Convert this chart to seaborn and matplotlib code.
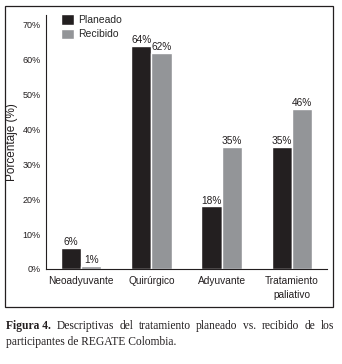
import matplotlib
matplotlib.use('Agg')
import matplotlib.pyplot as plt
import seaborn as sns
import pandas as pd
from matplotlib.patches import Rectangle
from matplotlib.ticker import FuncFormatter

sns.set_style('white')
plt.rcParams['font.family'] = ['Liberation Sans', 'DejaVu Sans']

# data
categorias = ['Neoadyuvante', 'Quirúrgico', 'Adyuvante', 'Tratamiento\npaliativo']
planeado = [6, 64, 18, 35]
recibido = [1, 62, 35, 46]
series = ['Planeado', 'Recibido']
colores = ['#231f20', '#939598']

df = pd.DataFrame({
    'categoria': categorias * 2,
    'serie': [series[0]] * 4 + [series[1]] * 4,
    'valor': planeado + recibido,
})

fig = plt.figure(figsize=(3.42, 3.64), dpi=100)
ax = fig.add_axes([46 / 342, 1 - 269 / 364, (327 - 46) / 342, (269 - 15) / 364])

sns.barplot(data=df, x='categoria', y='valor', hue='serie', palette=colores,
            width=0.58, saturation=1, ax=ax)

for cont in ax.containers:
    ax.bar_label(cont, fmt='%d%%', fontsize=7.3, padding=0.5, color='#231f20')

ax.set_ylim(0, 72.8)
ax.set_xlim(-0.5, 3.5)
ax.set_yticks(range(0, 71, 10))
ax.yaxis.set_major_formatter(FuncFormatter(lambda v, p: f'{int(v)}%'))
ax.set_xlabel('')
ax.set_ylabel('Porcentaje (%)', fontsize=8.5, color='#231f20', labelpad=3)
ax.tick_params(axis='y', labelsize=6.5, length=0, pad=4, colors='#231f20')
ax.tick_params(axis='x', which='major', labelsize=7.3, length=0, pad=5, colors='#231f20')
ax.set_xticks([-0.5, 0.5, 1.5, 2.5, 3.5], minor=True)
ax.tick_params(axis='x', which='minor', length=4, width=0.8, direction='out', color='#231f20')
for lab in ax.get_xticklabels():
    lab.set_linespacing(1.5)
    lab.set_verticalalignment('top')

sns.despine(ax=ax)
for s in ['left', 'bottom']:
    ax.spines[s].set_color('#231f20')
    ax.spines[s].set_linewidth(0.8)

ax.legend(loc='upper left', bbox_to_anchor=(0.04, 1.02), frameon=False,
          fontsize=7.5, handlelength=1.2, handleheight=1.2, handletextpad=0.4,
          labelspacing=0.35, borderaxespad=0)

# border box around the figure panel
fig.patches.append(Rectangle((5 / 342, 1 - 307 / 364), (333 - 5) / 342, (307 - 6) / 364,
                             transform=fig.transFigure, fill=False, lw=0.9,
                             edgecolor='#231f20'))

# caption, first line justified between x=6 and x=334 px
serif = ['Liberation Serif', 'DejaVu Serif']
renderer = fig.canvas.get_renderer()
words = ['Figura 4.'] + 'Descriptivas del tratamiento planeado vs. recibido de los'.split()
texts = []
for i, w in enumerate(words):
    t = fig.text(0, 1 - 326 / 364, w, family=serif, fontsize=8.3, va='center',
                 color='#231f20', fontweight='bold' if i == 0 else 'normal')
    texts.append(t)
widths = [t.get_window_extent(renderer).width for t in texts]
gap = (328 - sum(widths)) / (len(words) - 1)
x = 6
for t, w in zip(texts, widths):
    t.set_x(x / 342)
    x += w + gap
fig.text(6 / 342, 1 - 342 / 364, 'participantes de REGATE Colombia.',
         family=serif, fontsize=8.3, va='center', color='#231f20')

fig.savefig('out.png', dpi=100, facecolor='white')
